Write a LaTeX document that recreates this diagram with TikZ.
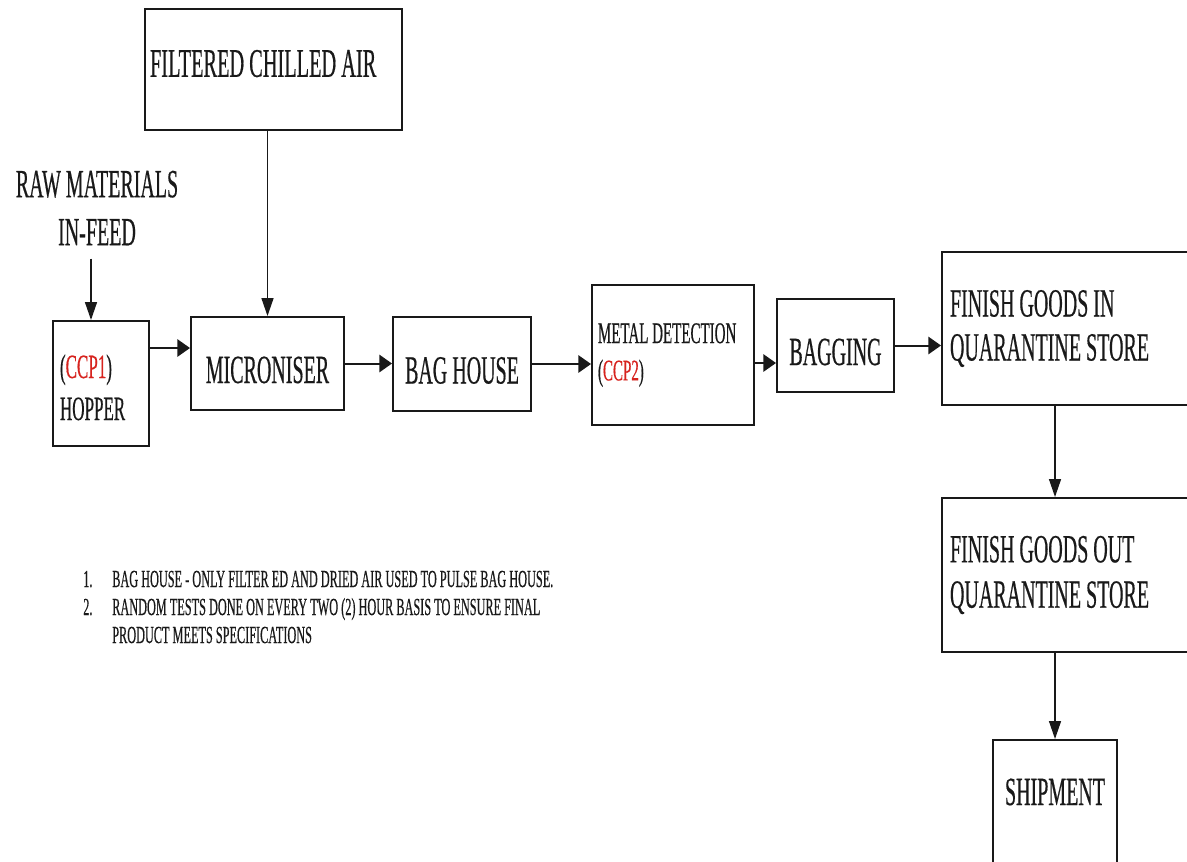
\documentclass[tikz,border=0pt]{standalone}
\usepackage{fontspec}
\setmainfont{Liberation Serif}[FakeStretch=0.5,FakeBold=0.4]
\usetikzlibrary{arrows.meta}
\definecolor{ccpred}{RGB}{215,35,30}
\definecolor{ink}{RGB}{25,25,25}
\tikzset{
  box/.style={draw=ink, text=ink, line width=1.5pt, rectangle, inner sep=0pt,
    font=\fontsize{30}{33}\selectfont},
  onel/.style={text height=29.25pt, text depth=0pt},
  harr/.style={draw=ink, line width=1.5pt, -{Triangle[length=9.5pt,width=13pt]}},
  varr/.style={draw=ink, line width=1.1pt, -{Triangle[length=13.5pt,width=9pt]}},
}
\begin{document}
\begin{tikzpicture}[x=0.75pt,y=-0.75pt]
\fill[white] (0,0) rectangle (1187,861);
\clip (0,0) rectangle (1187,861);

\node[box, minimum width=192.75pt, minimum height=90.75pt, inner xsep=3.75pt,
  text width=185.25pt, align=flush left, text height=20pt, text depth=9pt,
  font=\fontsize{30.5}{33}\selectfont]
  (air) at (273.5,69.5) {FILTERED CHILLED AIR};

\node[text=ink, inner sep=0pt, align=center, font=\fontsize{30}{36}\selectfont]
  (raw) at (97,208) {RAW MATERIALS\\IN-FEED};

\node[box, minimum width=72pt, minimum height=93.75pt, inner xsep=5.25pt,
  text width=61.5pt, align=flush left, font=\fontsize{25.5}{31.5}\selectfont,
  text height=21.75pt, text depth=30pt]
  (hopper) at (101,383.5) {(\textcolor{ccpred}{CCP1})\\HOPPER};

\node[box, onel, minimum width=114.75pt, minimum height=69.75pt]
  (micron) at (267.5,363.5) {MICRONISER};

\node[box, onel, minimum width=103.5pt, minimum height=70.5pt]
  (bag) at (462,364) {BAG HOUSE};

\node[box, minimum width=121.5pt, minimum height=105pt, inner xsep=4.5pt,
  text width=112.5pt, align=flush left, font=\fontsize{22.5}{28}\selectfont]
  (metal) at (673,355) {\mbox{METAL DETECTION}\\(\textcolor{ccpred}{CCP2})};

\node[box, onel, minimum width=87.75pt, minimum height=69.75pt]
  (bagging) at (835.5,345.5) {BAGGING};

\node[box, minimum width=189.75pt, minimum height=114.75pt, inner xsep=6pt,
  text width=177.75pt, align=flush left]
  (fgin) at (1068.5,328.5) {FINISH GOODS IN\\QUARANTINE STORE};

\node[box, minimum width=189.75pt, minimum height=115.5pt, inner xsep=6pt,
  text width=177.75pt, align=flush left, font=\fontsize{30}{34}\selectfont]
  (fgout) at (1068.5,575) {FINISH GOODS OUT\\QUARANTINE STORE};

\node[box, minimum width=93pt, minimum height=100.5pt, text height=20pt, text depth=23pt]
  (ship) at (1055,807) {SHIPMENT};

\node[text=ink, inner sep=0pt, anchor=base west, font=\fontsize{18.4}{21}\selectfont]
  (notes) at (83,587) {\begin{tabular}[t]{@{}p{21.75pt}@{}l@{}}
  1. & BAG HOUSE - ONLY FILTER ED AND DRIED AIR USED TO PULSE BAG HOUSE.\\
  2. & RANDOM TESTS DONE ON EVERY TWO (2) HOUR BASIS TO ENSURE FINAL\\
     & PRODUCT MEETS SPECIFICATIONS
  \end{tabular}};

\draw[varr] (air.south -| micron.north) -- (micron.north);
\draw[varr, shorten <=9.75pt] (raw.south -| 91,0) -- (hopper.north -| 91,0);
\draw[harr] (hopper.east |- 0,348) -- (micron.west |- 0,348);
\draw[harr] (micron.east) -- (micron.east -| bag.west);
\draw[harr] (bag.east) -- (bag.east -| metal.west);
\draw[harr] (metal.east |- 0,363) -- (bagging.west |- 0,363);
\draw[harr] (bagging.east) -- (bagging.east -| fgin.west);
\draw[varr] (fgin.south -| ship.north) -- (fgout.north -| ship.north);
\draw[varr] (fgout.south -| ship.north) -- (ship.north);
\end{tikzpicture}
\end{document}
